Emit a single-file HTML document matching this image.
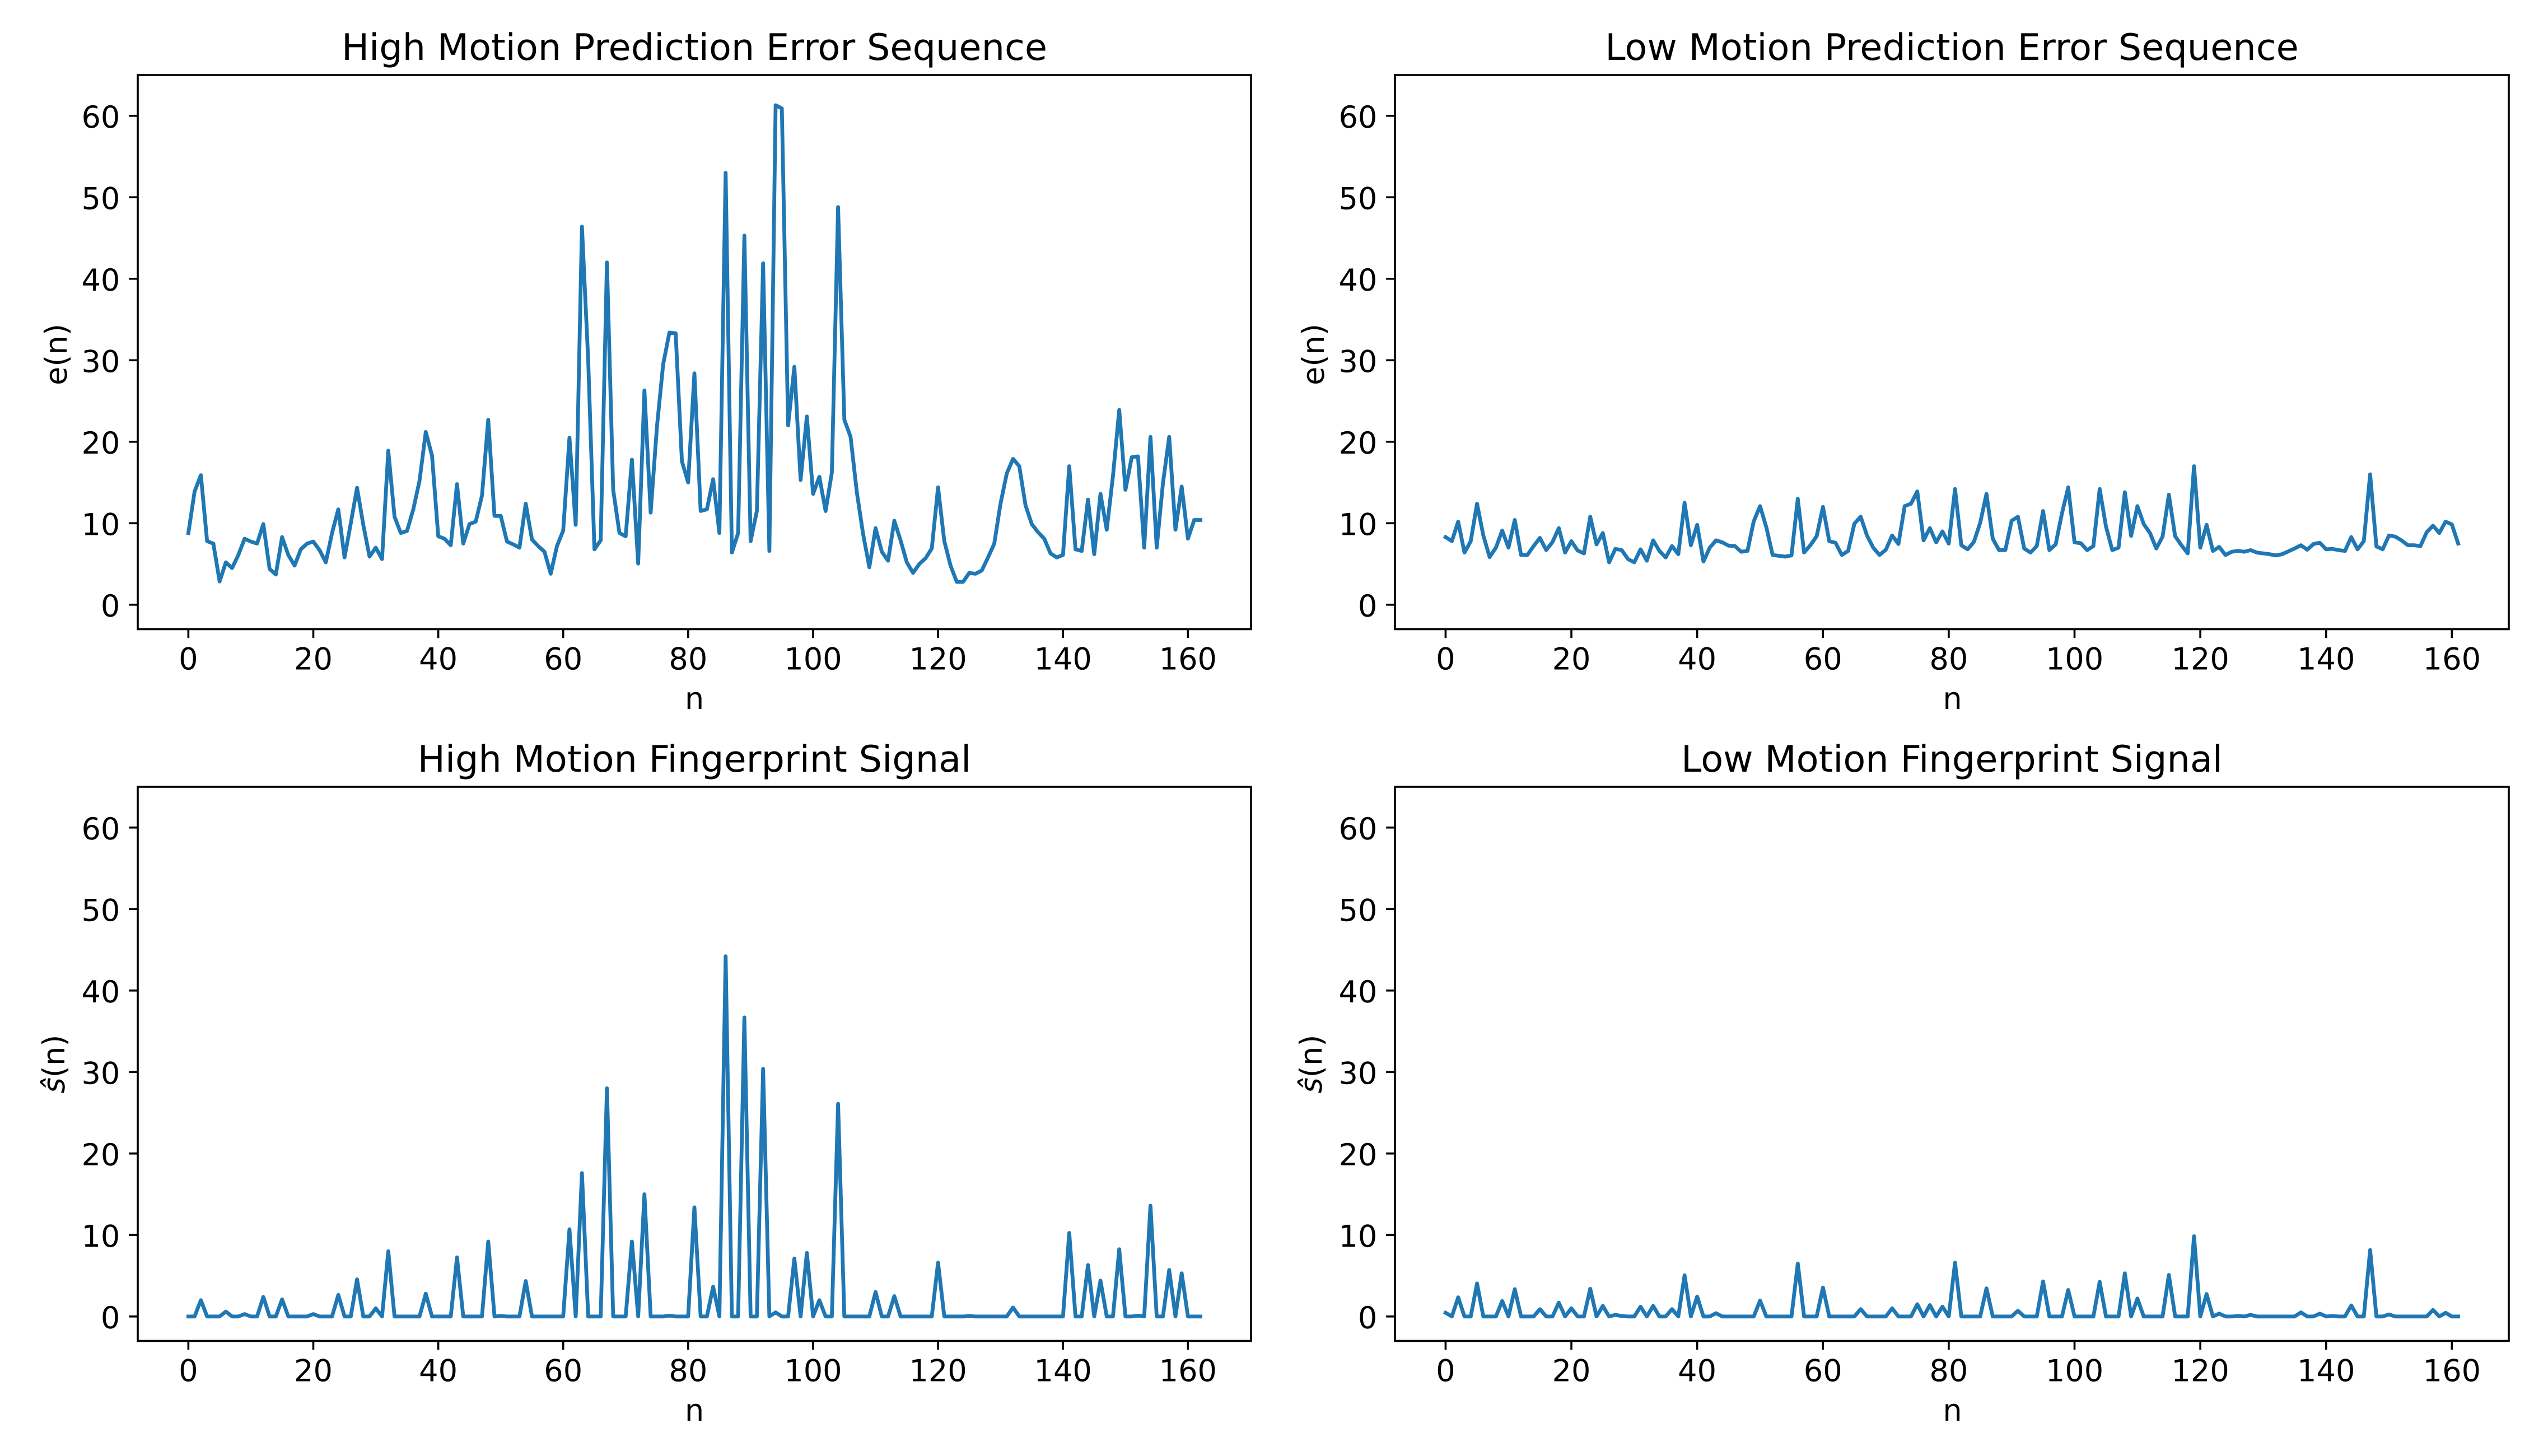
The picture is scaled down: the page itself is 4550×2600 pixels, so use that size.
<!DOCTYPE html>
<html lang="en">
<head>
<meta charset="utf-8">
<title>Prediction Error and Fingerprint Signals</title>
<style>
html,body{margin:0;padding:0;background:#fff;width:4550px;height:2600px;overflow:hidden}
svg{display:block}
text{font-family:"DejaVu Sans","Liberation Sans",sans-serif;fill:#000;text-rendering:geometricPrecision}
.title{font-size:65.3px;text-anchor:middle}
.label{font-size:54.17px;text-anchor:middle}
.tick-label{font-size:54.17px}
.spine{fill:none;stroke:#000;stroke-width:3.6px}
.tick{stroke:#000;stroke-width:3.6px}
.series{fill:none;stroke:#1f77b4;stroke-width:6.77px;stroke-linejoin:round;stroke-linecap:square}
</style>
</head>
<body>
<svg id="figure" width="4550" height="2600" viewBox="0 0 4550 2600" xmlns="http://www.w3.org/2000/svg">
  <rect x="0" y="0" width="4550" height="2600" fill="#fff"/>

  <g id="panel-hi-err">
    <text class="title" x="1240" y="107">High Motion Prediction Error Sequence</text>
    <text class="label" x="1240" y="1266">n</text>
    <text class="label" transform="translate(119 633) rotate(-90)">e(n)</text>
    <rect class="spine" x="246" y="134" width="1988" height="989.5"/>
  </g>

  <g id="panel-lo-err">
    <text class="title" x="3485.5" y="107">Low Motion Prediction Error Sequence</text>
    <text class="label" x="3486.5" y="1266">n</text>
    <text class="label" transform="translate(2364 633) rotate(-90)">e(n)</text>
    <rect class="spine" x="2491" y="134" width="1989" height="989.5"/>
  </g>

  <g id="panel-hi-sig">
    <text class="title" x="1240" y="1378">High Motion Fingerprint Signal</text>
    <text class="label" x="1240" y="2537">n</text>
    <text class="label" transform="translate(115 1900) rotate(-90)"><tspan font-style="italic">ŝ</tspan>(n)</text>
    <rect class="spine" x="246" y="1405" width="1988" height="989.5"/>
  </g>

  <g id="panel-lo-sig">
    <text class="title" x="3485.5" y="1378">Low Motion Fingerprint Signal</text>
    <text class="label" x="3486.5" y="2537">n</text>
    <text class="label" transform="translate(2360 1900) rotate(-90)"><tspan font-style="italic">ŝ</tspan>(n)</text>
    <rect class="spine" x="2491" y="1405" width="1989" height="989.5"/>
  </g>
</svg>

<script>
const xTickValues = [0, 20, 40, 60, 80, 100, 120, 140, 160];
const yTickValues = [0, 10, 20, 30, 40, 50, 60];

const highMotionError = [
  8.8,13.9,15.9,7.8,7.5,2.85,5.2,4.5,6.1,8.1,
  7.75,7.5,9.9,4.4,3.7,8.3,6.1,4.8,6.8,7.5,
  7.75,6.7,5.2,8.8,11.7,5.8,10,14.35,9.8,5.9,
  7,5.6,18.9,10.8,8.8,9.05,11.7,15.2,21.2,18.3,
  8.4,8.1,7.3,14.8,7.5,9.9,10.2,13.4,22.7,10.9,
  10.9,7.75,7.4,7,12.4,8,7.2,6.5,3.8,7.2,
  9.1,20.5,9.8,46.4,30,6.8,7.9,42,14.1,8.8,
  8.4,17.8,5.05,26.3,11.3,21.8,29.5,33.4,33.3,17.6,
  15,28.4,11.5,11.7,15.4,8.8,53,6.4,8.8,45.3,
  7.8,11.5,41.9,6.6,61.3,60.9,22,29.2,15.3,23.1,
  13.6,15.7,11.5,16.2,48.8,22.7,20.6,13.8,8.7,4.6,
  9.4,6.5,5.4,10.3,7.9,5.2,3.9,5,5.7,6.9,
  14.4,7.8,4.8,2.8,2.8,3.9,3.8,4.2,5.8,7.5,
  12.4,16.1,17.9,17,12.2,9.9,8.9,8.1,6.3,5.8,
  6.1,17,6.8,6.6,12.9,6.2,13.6,9.2,15.8,23.9,
  14.1,18.1,18.2,7,20.6,7,14.9,20.6,9.2,14.5,
  8.1,10.4,10.4
];

const lowMotionError = [
  8.3,7.8,10.2,6.4,7.8,12.4,8.5,5.85,7,9.1,
  7,10.4,6.1,6.1,7.2,8.2,6.7,7.7,9.4,6.4,
  7.8,6.65,6.3,10.8,7.4,8.8,5.2,6.85,6.7,5.6,
  5.2,6.8,5.4,7.9,6.6,5.8,7.2,6.2,12.5,7.3,
  9.8,5.3,7,7.9,7.65,7.25,7.2,6.5,6.6,10.25,
  12.1,9.5,6.1,6,5.9,6.05,13,6.4,7.3,8.4,
  12,7.8,7.6,6.1,6.6,9.95,10.8,8.5,7,6.1,
  6.75,8.5,7.45,12.1,12.4,13.9,7.9,9.4,7.65,9,
  7.5,14.2,7.3,6.8,7.7,10.05,13.6,8.1,6.7,6.7,
  10.3,10.8,6.9,6.4,7.2,11.5,6.7,7.4,11.2,14.4,
  7.65,7.55,6.7,7.2,14.2,9.6,6.7,7,13.8,8.45,
  12.1,9.9,8.8,6.9,8.35,13.5,8.4,7.3,6.3,17,
  7,9.8,6.6,7.1,6.1,6.5,6.6,6.5,6.7,6.4,
  6.3,6.2,6.05,6.2,6.55,6.9,7.3,6.75,7.45,7.6,
  6.8,6.85,6.7,6.6,8.3,6.8,7.8,16,7.15,6.8,
  8.5,8.35,7.9,7.3,7.3,7.2,8.9,9.7,8.8,10.2,
  9.85,7.5
];

const highMotionSignal = [
  0,0,2,0,0,0,0.6,0,0,0.3,
  0,0,2.4,0,0,2.1,0,0,0,0,
  0.3,0,0,0,2.65,0,0,4.55,0,0,
  1,0,8,0,0,0,0,0,2.8,0,
  0,0,0,7.25,0,0,0,0,9.2,0,
  0.05,0,0,0,4.35,0,0,0,0,0,
  0,10.7,0,17.6,0,0,0,28,0,0,
  0,9.2,0,15,0,0,0,0.1,0,0,
  0,13.4,0,0,3.65,0,44.2,0,0,36.7,
  0,0,30.4,0,0.5,0,0,7.1,0,7.8,
  0,2,0,0,26.1,0,0,0,0,0,
  3,0,0,2.5,0,0,0,0,0,0,
  6.6,0,0,0,0,0.05,0,0,0,0,
  0,0,1.1,0,0,0,0,0,0,0,
  0,10.25,0,0,6.3,0,4.4,0,0,8.25,
  0,0,0.1,0,13.6,0,0,5.7,0,5.3,
  0,0,0
];

const lowMotionSignal = [
  0.45,0,2.35,0,0,4.05,0,0,0,1.9,
  0,3.35,0,0,0,0.9,0,0,1.7,0,
  1,0,0,3.4,0,1.3,0,0.2,0.05,0,
  0,1.2,0,1.3,0,0,0.9,0,5.05,0,
  2.45,0,0,0.4,0,0,0,0,0,0,
  1.95,0,0,0,0,0,6.5,0,0,0,
  3.55,0,0,0,0,0,0.9,0,0,0,
  0,1,0,0,0,1.5,0,1.4,0,1.2,
  0,6.6,0,0,0,0,3.45,0,0,0,
  0,0.7,0,0,0,4.3,0,0,0,3.25,
  0,0,0,0,4.25,0,0,0,5.3,0,
  2.2,0,0,0,0,5.1,0,0,0,9.85,
  0,2.75,0,0.35,0,0,0.05,0,0.2,0,
  0,0,0,0,0,0,0.5,0,0,0.35,
  0,0.05,0,0,1.35,0,0,8.15,0,0,
  0.25,0,0,0,0,0,0,0.8,0,0.45,
  0,0
];

const SVG_NS = 'http://www.w3.org/2000/svg';
const TICK_LENGTH = 15.8;
const TICK_PAD = 15.8;
const Y_MIN = -3;
const Y_MAX = 65;

function drawPanel(groupId, prefix, series, left, right, top, bottom) {
  const group = document.getElementById(groupId);
  const lastIndex = series.length - 1;
  const margin = lastIndex * 0.05;
  const xMin = -margin;
  const xMax = lastIndex + margin;
  const xScale = v => left + (v - xMin) / (xMax - xMin) * (right - left);
  const yScale = v => bottom - (v - Y_MIN) / (Y_MAX - Y_MIN) * (bottom - top);

  xTickValues.forEach(v => {
    const tick = document.createElementNS(SVG_NS, 'line');
    tick.setAttribute('class', 'tick');
    tick.setAttribute('x1', xScale(v));
    tick.setAttribute('x2', xScale(v));
    tick.setAttribute('y1', bottom);
    tick.setAttribute('y2', bottom + TICK_LENGTH);
    
    
    group.appendChild(tick);

    const label = document.createElementNS(SVG_NS, 'text');
    label.setAttribute('class', 'tick-label');
    label.setAttribute('text-anchor', 'middle');
    label.setAttribute('x', xScale(v));
    label.setAttribute('y', bottom + TICK_LENGTH + TICK_PAD + 40.5);
    
    
    label.textContent = String(v);
    group.appendChild(label);
  });

  yTickValues.forEach(v => {
    const tick = document.createElementNS(SVG_NS, 'line');
    tick.setAttribute('class', 'tick');
    tick.setAttribute('x1', left - TICK_LENGTH);
    tick.setAttribute('x2', left);
    tick.setAttribute('y1', yScale(v));
    tick.setAttribute('y2', yScale(v));
    
    
    group.appendChild(tick);

    const label = document.createElementNS(SVG_NS, 'text');
    label.setAttribute('class', 'tick-label');
    label.setAttribute('text-anchor', 'end');
    label.setAttribute('x', left - TICK_LENGTH - TICK_PAD);
    label.setAttribute('y', yScale(v) + 21.2);
    
    
    label.textContent = String(v);
    group.appendChild(label);
  });

  const line = document.createElementNS(SVG_NS, 'path');
  line.setAttribute('class', 'series');
  line.setAttribute('d', series.map((v, i) => (i ? 'L' : 'M') + xScale(i).toFixed(2) + ' ' + yScale(v).toFixed(2)).join(' '));
  
  
  group.appendChild(line);
}

drawPanel('panel-hi-err', 'high-motion-error', highMotionError, 246, 2234, 134, 1123.5);
drawPanel('panel-lo-err', 'low-motion-error', lowMotionError, 2491, 4480, 134, 1123.5);
drawPanel('panel-hi-sig', 'high-motion-signal', highMotionSignal, 246, 2234, 1405, 2394.5);
drawPanel('panel-lo-sig', 'low-motion-signal', lowMotionSignal, 2491, 4480, 1405, 2394.5);
</script>
</body>
</html>
